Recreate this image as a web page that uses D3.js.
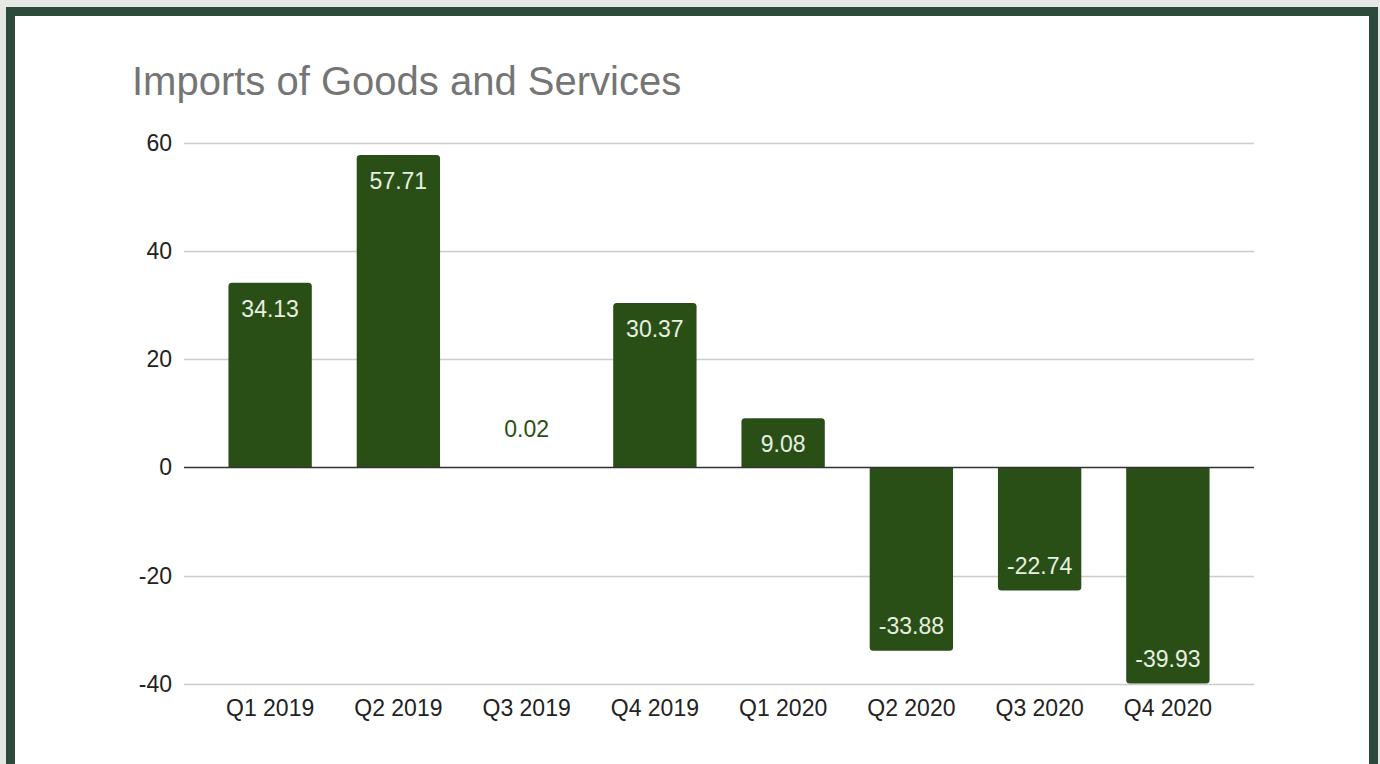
<!DOCTYPE html>
<html>
<head>
<meta charset="utf-8">
<script src="https://cdn.jsdelivr.net/npm/d3@7"></script>
<style>
  html, body { margin: 0; padding: 0; background: #e6e8e6; }
  svg { display: block; }
</style>
</head>
<body>
<svg id="chart" width="1380" height="764"></svg>
<script>
const categories = ["Q1 2019", "Q2 2019", "Q3 2019", "Q4 2019", "Q1 2020", "Q2 2020", "Q3 2020", "Q4 2020"];
const values = [34.13, 57.71, 0.02, 30.37, 9.08, -33.88, -22.74, -39.93];
const yTicks = [-40, -20, 0, 20, 40, 60];
const title = "Imports of Goods and Services";

const svg = d3.select("#chart");
const W = 1380, H = 764;
const barColor = "#2a4f16";
const font = "'Liberation Sans', Arial, sans-serif";

// frame
svg.append("rect").attr("x", 0).attr("y", 0).attr("width", W).attr("height", H).attr("fill", "#e6e8e6");
svg.append("rect").attr("x", 6).attr("y", 7).attr("width", 1372).attr("height", 800).attr("fill", "#2e4a3a");
svg.append("rect").attr("x", 15).attr("y", 16).attr("width", 1354).attr("height", 800).attr("fill", "#ffffff");

// title
svg.append("text")
  .attr("x", 132).attr("y", 95)
  .attr("font-family", font).attr("font-size", 40)
  .attr("fill", "#757575")
  .text(title);

const x = d3.scaleBand().domain(categories).range([206, 1232]).paddingInner(0.35).paddingOuter(0.175);
const y = d3.scaleLinear().domain([-40, 60]).range([684, 142.7]);

const gridX0 = 184, gridX1 = 1254;

// gridlines
svg.append("g").selectAll("line").data(yTicks.filter(t => t !== 0)).join("line")
  .attr("x1", gridX0).attr("x2", gridX1)
  .attr("y1", d => Math.round(y(d)) + 0.5).attr("y2", d => Math.round(y(d)) + 0.5)
  .attr("stroke", "#cccccc").attr("stroke-width", 1.3);

// y axis labels
const yAxis = d3.axisLeft(y).tickValues(yTicks).tickSize(0).tickPadding(0).tickFormat(d => String(d));
const yg = svg.append("g").attr("transform", `translate(172,0)`).call(yAxis);
yg.select(".domain").remove();
yg.selectAll("text").attr("font-family", font).attr("font-size", 23).attr("fill", "#222222");

// bars with rounded outer corners
const r = 3.5;
function barPath(d, i) {
  const x0 = x(categories[i]), w = x.bandwidth();
  const y0 = y(0), y1 = y(d);
  if (Math.abs(y1 - y0) < 0.5) return "";
  if (d >= 0) {
    return `M${x0},${y0} L${x0},${y1 + r} Q${x0},${y1} ${x0 + r},${y1} L${x0 + w - r},${y1} Q${x0 + w},${y1} ${x0 + w},${y1 + r} L${x0 + w},${y0} Z`;
  } else {
    return `M${x0},${y0} L${x0},${y1 - r} Q${x0},${y1} ${x0 + r},${y1} L${x0 + w - r},${y1} Q${x0 + w},${y1} ${x0 + w},${y1 - r} L${x0 + w},${y0} Z`;
  }
}
svg.append("g").selectAll("path").data(values).join("path")
  .attr("d", (d, i) => barPath(d, i))
  .attr("fill", barColor);

// zero line
svg.append("line")
  .attr("x1", gridX0).attr("x2", gridX1)
  .attr("y1", y(0)).attr("y2", y(0))
  .attr("stroke", "#333333").attr("stroke-width", 1.5);

// value labels
svg.append("g").selectAll("text").data(values).join("text")
  .attr("x", (d, i) => x(categories[i]) + x.bandwidth() / 2)
  .attr("y", d => {
    const h = Math.abs(y(d) - y(0));
    if (h < 40) return y(0) - 30;
    return d >= 0 ? y(d) + 34 : y(d) - 16.5;
  })
  .attr("text-anchor", "middle")
  .attr("font-family", font).attr("font-size", 23)
  .attr("fill", d => Math.abs(y(d) - y(0)) < 40 ? barColor : "#e8efe2")
  .text(d => d.toFixed(2));

// x axis labels
const xAxis = d3.axisBottom(x).tickSize(0).tickPadding(0);
const xg = svg.append("g").attr("transform", `translate(0,716)`).call(xAxis);
xg.select(".domain").remove();
xg.selectAll("text").attr("dy", 0).attr("font-family", font).attr("font-size", 23).attr("fill", "#222222");
</script>
</body>
</html>
